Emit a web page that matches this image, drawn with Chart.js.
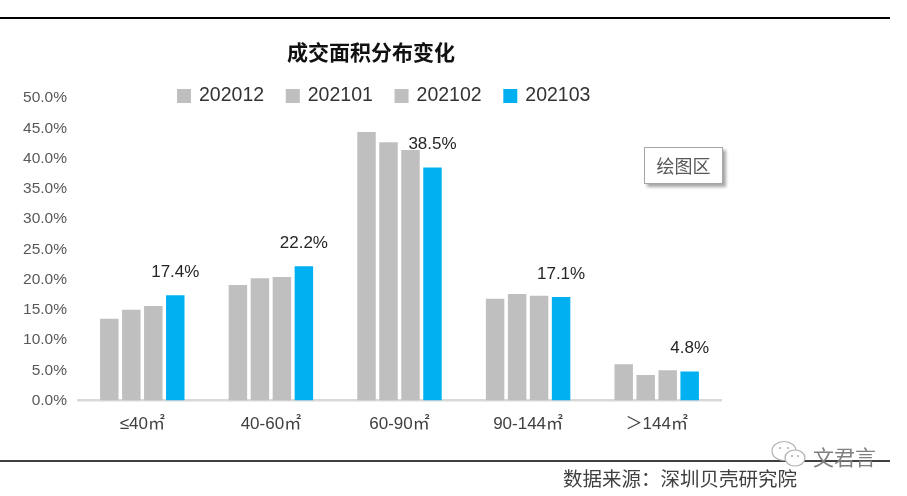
<!DOCTYPE html>
<html>
<head>
<meta charset="utf-8">
<script src="https://cdn.jsdelivr.net/npm/chart.js@4.4.1/dist/chart.umd.min.js"></script>
<style>
  html, body { margin: 0; padding: 0; background: #ffffff; }
  #wrap { position: relative; width: 907px; height: 496px; }
</style>
</head>
<body>
<div id="wrap"><canvas id="c"></canvas></div>
<script>
// ---- data ----
const categories = ['≤40㎡', '40-60㎡', '60-90㎡', '90-144㎡', '＞144㎡'];
const seriesNames = ['202012', '202101', '202102', '202103'];
const s202012 = [13.5, 19.1, 44.4, 16.8, 6.0];
const s202101 = [15.0, 20.2, 42.7, 17.6, 4.2];
const s202102 = [15.6, 20.4, 41.4, 17.3, 5.0];
const s202103 = [17.4, 22.2, 38.5, 17.1, 4.8];
const yTicks = [0, 5, 10, 15, 20, 25, 30, 35, 40, 45, 50];
const titleText = '成交面积分布变化';
const sourceText = '数据来源：深圳贝壳研究院';
const boxText = '绘图区';
const markText = '文君言';

const GRAY = '#bfbfbf';
const BLUE = '#00b0f0';
const seriesValues = [s202012, s202101, s202102, s202103];
const seriesColors = [GRAY, GRAY, GRAY, BLUE];

const LATIN = '"Liberation Sans", "Noto Sans CJK SC", sans-serif';
const CJK = '"Noto Sans CJK SC", "Liberation Sans", sans-serif';

const CA = { left: 78, right: 721, top: 98, bottom: 400.5 };

const decor = {
  id: 'decor',
  afterDatasetsDraw(chart) {
    const ctx = chart.ctx;
    // data labels on the last series
    const di = 3;
    const meta = chart.getDatasetMeta(di);
    ctx.save();
    ctx.font = '17px ' + LATIN;
    ctx.fillStyle = '#262626';
    ctx.textAlign = 'center';
    ctx.textBaseline = 'middle';
    meta.data.forEach((bar, i) => {
      const v = chart.data.datasets[di].data[i];
      ctx.fillText(v.toFixed(1) + '%', bar.x, bar.y - 23);
    });
    ctx.restore();
  },
  afterDraw(chart) {
    const ctx = chart.ctx;
    ctx.save();
    // horizontal rules
    ctx.strokeStyle = '#000000';
    ctx.lineWidth = 2;
    ctx.beginPath(); ctx.moveTo(0, 18); ctx.lineTo(890, 18); ctx.stroke();
    ctx.lineWidth = 1.6;
    ctx.beginPath(); ctx.moveTo(0, 461); ctx.lineTo(890, 461); ctx.stroke();

    // title
    ctx.font = 'bold 21px ' + CJK;
    ctx.fillStyle = '#111111';
    ctx.textAlign = 'center';
    ctx.textBaseline = 'middle';
    ctx.fillText(titleText, 371, 52);

    // legend
    ctx.font = '19.5px ' + LATIN;
    ctx.textAlign = 'left';
    ctx.textBaseline = 'middle';
    let x = 177;
    const ly = 96;
    chart.data.datasets.forEach((ds) => {
      ctx.fillStyle = ds.backgroundColor;
      ctx.fillRect(x, ly - 7, 14, 14);
      ctx.fillStyle = '#333333';
      ctx.fillText(ds.label, x + 22, ly);
      x += 22 + ctx.measureText(ds.label).width + 21.7;
    });

    // "绘图区" box with shadow
    ctx.save();
    ctx.shadowColor = 'rgba(0,0,0,0.35)';
    ctx.shadowBlur = 3;
    ctx.shadowOffsetX = 3;
    ctx.shadowOffsetY = 3;
    ctx.fillStyle = '#ffffff';
    ctx.fillRect(644, 147, 79, 37);
    ctx.restore();
    ctx.strokeStyle = '#a6a6a6';
    ctx.lineWidth = 1;
    ctx.strokeRect(644.5, 147.5, 78, 36);
    ctx.font = '18px ' + CJK;
    ctx.fillStyle = '#595959';
    ctx.textAlign = 'center';
    ctx.fillText(boxText, 683.5, 166);

    // source
    ctx.font = '19.5px ' + CJK;
    ctx.fillStyle = '#404040';
    ctx.textAlign = 'left';
    ctx.fillText(sourceText, 563, 479);

    // watermark icon + text
    ctx.strokeStyle = '#b0b0b0';
    ctx.lineWidth = 1.2;
    ctx.fillStyle = '#ffffff';
    ctx.beginPath(); ctx.ellipse(784, 451, 12, 9.5, 0, 0, Math.PI * 2); ctx.fill(); ctx.stroke();
    ctx.beginPath(); ctx.ellipse(795, 458, 10, 8, 0, 0, Math.PI * 2); ctx.fill(); ctx.stroke();
    ctx.fillStyle = '#b0b0b0';
    [[780, 448], [788, 448], [792, 456], [798, 456]].forEach(p => {
      ctx.beginPath(); ctx.arc(p[0], p[1], 1.1, 0, Math.PI * 2); ctx.fill();
    });
    ctx.font = '21px ' + CJK;
    ctx.fillStyle = '#7f7f7f';
    ctx.textAlign = 'left';
    ctx.fillText(markText, 813, 457);
    ctx.restore();
  }
};

new Chart(document.getElementById('c'), {
  type: 'bar',
  data: {
    labels: categories,
    datasets: seriesNames.map((n, i) => ({
      label: n,
      data: seriesValues[i],
      backgroundColor: seriesColors[i],
      borderWidth: 0,
      categoryPercentage: 0.684,
      barPercentage: 0.84
    }))
  },
  options: {
    responsive: true,
    maintainAspectRatio: false,
    animation: false,
    devicePixelRatio: 1,
    layout: { padding: { left: 0, right: 907 - CA.right, top: CA.top, bottom: 0 } },
    plugins: {
      legend: { display: false },
      title: { display: false },
      tooltip: { enabled: false }
    },
    scales: {
      x: {
        grid: { display: false, drawTicks: false },
        border: { display: true, color: '#d9d9d9', width: 2.5 },
        ticks: { color: '#404040', font: { size: 17, family: LATIN }, padding: 14, maxRotation: 0 },
        afterFit(s) { s.height = 496 - CA.bottom; s.paddingLeft = 0; s.paddingRight = 0; }
      },
      y: {
        min: 0, max: 50,
        grid: { display: false, drawTicks: false },
        border: { display: false },
        afterBuildTicks(s) { s.ticks = yTicks.map(v => ({ value: v })); },
        ticks: {
          color: '#595959',
          font: { size: 15.5, family: LATIN },
          padding: 11,
          callback: (v) => Number(v).toFixed(1) + '%'
        },
        afterFit(s) { s.width = CA.left; s.paddingTop = 0; s.paddingBottom = 0; }
      }
    }
  },
  plugins: [decor]
});
</script>
</body>
</html>
